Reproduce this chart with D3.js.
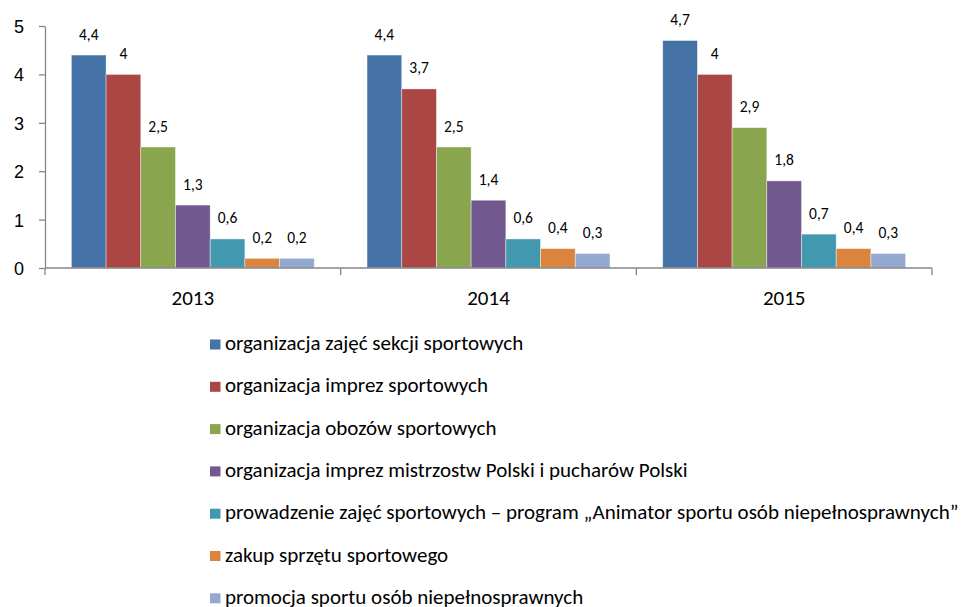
<!DOCTYPE html>
<html>
<head>
<meta charset="utf-8">
<script src="https://cdn.jsdelivr.net/npm/d3@7"></script>
<style>
  body { margin: 0; background: #fff; }
  svg { display: block; font-family: Carlito, Calibri, Lato, sans-serif; }
  .axis path, .axis line { stroke: #868686; stroke-width: 1.3; }
</style>
</head>
<body>
<svg id="chart" width="967" height="607"></svg>
<script>
var years = ['2013', '2014', '2015'];

var seriesNames = [
  'organizacja zajęć sekcji sportowych',
  'organizacja imprez sportowych',
  'organizacja obozów sportowych',
  'organizacja imprez mistrzostw Polski i pucharów Polski',
  'prowadzenie zajęć sportowych – program „Animator sportu osób niepełnosprawnych”',
  'zakup sprzętu sportowego',
  'promocja sportu osób niepełnosprawnych'
];

var values2013 = [4.4, 4, 2.5, 1.3, 0.6, 0.2, 0.2];
var values2014 = [4.4, 3.7, 2.5, 1.4, 0.6, 0.4, 0.3];
var values2015 = [4.7, 4, 2.9, 1.8, 0.7, 0.4, 0.3];

var yTicks = [0, 1, 2, 3, 4, 5];

var colors = ['#4572A7', '#AA4643', '#89A54E', '#71588F', '#4198AF', '#DB843D', '#93A9CF'];

var valuesByYear = [values2013, values2014, values2015];

var svg = d3.select('#chart');
var plot = { left: 45, right: 932, top: 26, bottom: 268 };

var x = d3.scaleBand().domain(years).range([plot.left, plot.right]).padding(0);
var xInner = d3.scaleBand().domain(d3.range(seriesNames.length))
    .range([0, x.bandwidth()]).paddingInner(0).paddingOuter(0.76);
var y = d3.scaleLinear().domain([0, 5]).range([plot.bottom, plot.top]);
var color = d3.scaleOrdinal().domain(d3.range(seriesNames.length)).range(colors);
var fmt = function (v) { return String(v).replace('.', ','); };

// bars
var groups = svg.append('g').selectAll('g')
  .data(years).enter()
  .append('g')
    .attr('transform', function (d) { return 'translate(' + x(d) + ',0)'; });

groups.selectAll('rect')
  .data(function (d, i) { return valuesByYear[i]; })
  .enter().append('rect')
    .attr('x', function (d, i) { return xInner(i); })
    .attr('y', function (d) { return y(d); })
    .attr('width', xInner.bandwidth())
    .attr('height', function (d) { return y(0) - y(d); })
    .attr('fill', function (d, i) { return color(i); })
    .attr('stroke', '#fff')
    .attr('stroke-opacity', 0.5)
    .attr('stroke-width', 0.8);

groups.selectAll('text')
  .data(function (d, i) { return valuesByYear[i]; })
  .enter().append('text')
    .attr('x', function (d, i) { return xInner(i) + xInner.bandwidth() / 2; })
    .attr('y', function (d) { return y(d) - 15.5; })
    .attr('text-anchor', 'middle')
    .attr('font-size', 15.5)
    .attr('fill', '#000')
    .text(fmt);

// y axis
var yAxis = svg.append('g')
  .attr('class', 'axis')
  .attr('transform', 'translate(' + plot.left + ',0)')
  .call(d3.axisLeft(y).tickValues(yTicks).tickSize(6).tickSizeOuter(0).tickFormat(d3.format('d')));
yAxis.selectAll('text')
  .attr('x', -21)
  .attr('dy', '0.36em')
  .attr('font-size', 18)
  .attr('font-family', null)
  .attr('fill', '#000');

// x axis: line plus ticks at category boundaries
var xAxisG = svg.append('g').attr('class', 'axis');
xAxisG.append('line')
  .attr('x1', plot.left).attr('x2', plot.right)
  .attr('y1', y(0)).attr('y2', y(0));
xAxisG.selectAll('.tick')
  .data(years.concat(['end'])).enter()
  .append('line')
    .attr('x1', function (d) { return d === 'end' ? plot.right : x(d); })
    .attr('x2', function (d) { return d === 'end' ? plot.right : x(d); })
    .attr('y1', y(0)).attr('y2', y(0) + 7);
xAxisG.selectAll('text')
  .data(years).enter()
  .append('text')
    .attr('x', function (d) { return x(d) + x.bandwidth() / 2; })
    .attr('y', 305)
    .attr('text-anchor', 'middle')
    .attr('font-size', 21)
    .attr('fill', '#000')
    .text(function (d) { return d; });

// legend
var legend = svg.append('g')
  .attr('transform', 'translate(210,339.5)')
  .selectAll('g')
  .data(seriesNames).enter()
  .append('g')
    .attr('transform', function (d, i) { return 'translate(0,' + (i * 42.3) + ')'; });

legend.append('rect')
  .attr('width', 10.5).attr('height', 10)
  .attr('fill', function (d, i) { return color(i); });

legend.append('text')
  .attr('x', 15)
  .attr('y', 10.5)
  .attr('font-size', 21)
  .attr('fill', '#000')
  .text(function (d) { return d; });
</script>
</body>
</html>
